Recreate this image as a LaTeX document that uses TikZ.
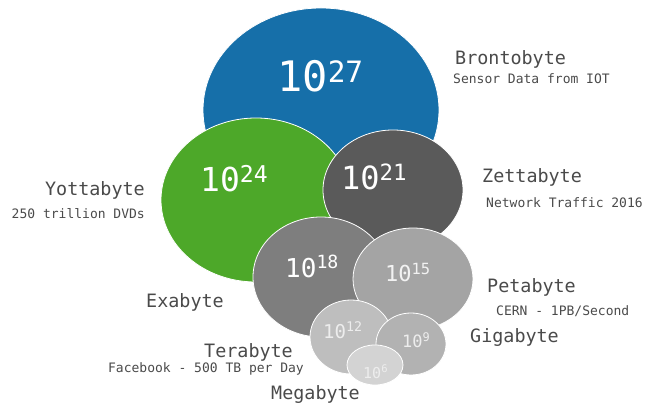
\documentclass[tikz,border=0pt]{standalone}
\usepackage{fontspec}
\setmonofont{DejaVu Sans Mono}
\usetikzlibrary{shapes.geometric}
\definecolor{cblue}{HTML}{166FA9}
\definecolor{cgreen}{HTML}{4DA829}
\definecolor{cdark}{HTML}{5A5A5A}
\definecolor{cmid}{HTML}{7E7E7E}
\definecolor{clight}{HTML}{A4A4A4}
\definecolor{cpale}{HTML}{BEBEBE}
\definecolor{cpaler}{HTML}{B2B2B2}
\definecolor{cfaint}{HTML}{D3D3D3}
\definecolor{ctext}{HTML}{4A4A4A}
\tikzset{
  every picture/.style={font=\ttfamily},
  bubble/.style={ellipse, fill=#1, draw=white, line width=0.8pt, inner sep=0pt},
  power/.style={font=\ttfamily\fontsize{#1}{#1}\selectfont, text=white, inner sep=0pt, anchor=base west},
  unitname/.style={font=\ttfamily\fontsize{18.4}{20}\selectfont, text=ctext, inner sep=0pt},
  note/.style={font=\ttfamily\fontsize{13}{14}\selectfont, text=ctext, inner sep=0pt},
}

\begin{document}
\begin{tikzpicture}[x=1pt, y=-1pt]
  \useasboundingbox (0,0) rectangle (648,403);
  % the bubbles, biggest first
  \node[bubble=cblue, minimum width=236pt, minimum height=204pt] (bronto) at (321,110) {};
  \node[bubble=cgreen, minimum width=190pt, minimum height=164pt] (yotta) at (256,200) {};
  \node[bubble=cdark, minimum width=140pt, minimum height=120pt] (zetta) at (393,190) {};
  \node[bubble=cmid, minimum width=136pt, minimum height=120pt] (exa) at (321,277) {};
  \node[bubble=clight, minimum width=120pt, minimum height=102pt] (peta) at (413,279) {};
  \node[bubble=cpale, minimum width=82pt, minimum height=74pt] (tera) at (351,337) {};
  \node[bubble=cpaler, minimum width=70pt, minimum height=62pt] (giga) at (411,344) {};
  \node[bubble=cfaint, minimum width=56pt, minimum height=40pt] (mega) at (375,365) {};
  % powers of ten
  \node[power=42] (p27) at (277,92) {10\textsuperscript{27}};
  \node[power=33] (p24) at (200,192) {10\textsuperscript{24}};
  \node[power=32] (p21) at (341,190) {10\textsuperscript{21}};
  \node[power=26] (p18) at (285,278) {10\textsuperscript{18}};
  \node[power=22, text=white!95!black] (p15) at (385,282) {10\textsuperscript{15}};
  \node[power=19, text=white!93!black] (p12) at (323,338) {10\textsuperscript{12}};
  \node[power=17, text=white!93!black] (p9) at (402,348) {10\textsuperscript{9}};
  \node[power=15, text=white!93!black] (p6) at (363,378) {10\textsuperscript{6}};
  % names and notes
  \node[unitname, anchor=base west] (nbronto) at (455,65) {Brontobyte};
  \node[note, anchor=base west] (sbronto) at (453,84) {Sensor Data from IOT};
  \node[unitname, anchor=base west] (nzetta) at (482,183) {Zettabyte};
  \node[note, anchor=base west] (szetta) at (486,208) {Network Traffic 2016};
  \node[unitname, anchor=base east] (nyotta) at (145,196) {Yottabyte};
  \node[note, anchor=base east] (syotta) at (145,219) {250 trillion DVDs};
  \node[unitname, anchor=base west] (nexa) at (146,308) {Exabyte};
  \node[unitname, anchor=base west] (npeta) at (487,293) {Petabyte};
  \node[note, anchor=base west] (speta) at (496,316) {CERN - 1PB/Second};
  \node[unitname, anchor=base west] (ngiga) at (470,343) {Gigabyte};
  \node[unitname, anchor=base west] (ntera) at (204,357) {Terabyte};
  \node[note, anchor=base east] (stera) at (304,373) {Facebook - 500 TB per Day};
  \node[unitname, anchor=base west] (nmega) at (271,399) {Megabyte};
\end{tikzpicture}
\end{document}
